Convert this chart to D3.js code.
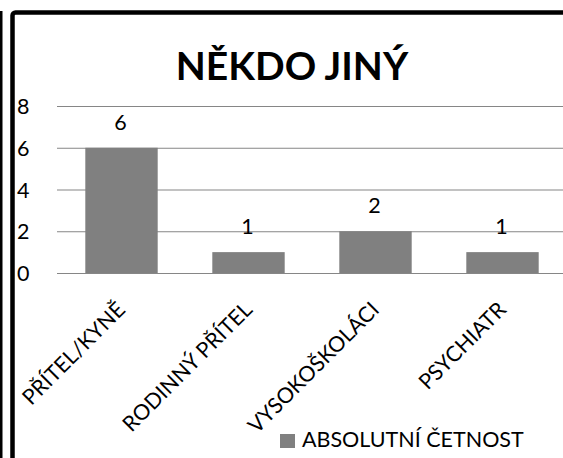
<!DOCTYPE html>
<html>
<head>
<meta charset="utf-8">
<script src="https://cdn.jsdelivr.net/npm/d3@7"></script>
<style>
  body { margin: 0; background: #fff; }
  text { font-family: Lato, "Open Sans", sans-serif; fill: #000; }
</style>
</head>
<body>
<script>
// chart data
var title = "NĚKDO JINÝ";
var seriesName = "ABSOLUTNÍ ČETNOST";
var categories = ["PŘÍTEL/KYNĚ", "RODINNÝ PŘÍTEL", "VYSOKOŠKOLÁCI", "PSYCHIATR"];
var values = [6, 1, 2, 1];
var yTicks = [0, 2, 4, 6, 8];

var width = 563, height = 458;
var fontSize = 21.5;

var svg = d3.select("body").append("svg")
    .attr("width", width)
    .attr("height", height);

// frame (left edge of neighbour + chart border)
svg.append("rect").attr("x", 0).attr("y", 11).attr("width", 2.5).attr("height", height)
    .attr("fill", "#000");
svg.append("rect").attr("x", 12.5).attr("y", 12.5).attr("width", 620).attr("height", 520)
    .attr("rx", 3).attr("fill", "none").attr("stroke", "#000").attr("stroke-width", 4.5);

var x = d3.scaleBand().domain(categories).range([58, 566])
    .paddingInner(0.43).paddingOuter(0.215);
var y = d3.scaleLinear().domain([0, 8]).range([273, 106]);

// gridlines
var grid = svg.append("g").attr("transform", "translate(57,0)")
    .call(d3.axisLeft(y).tickValues(yTicks).tickSize(-(width - 57)).tickFormat(""));
grid.select(".domain").remove();
grid.selectAll("line").attr("stroke", "#868686").attr("stroke-width", 1.2);

// y tick labels
var yLab = svg.append("g").attr("transform", "translate(17,0)")
    .call(d3.axisRight(y).tickValues(yTicks).tickSize(0).tickPadding(0));
yLab.select(".domain").remove();
yLab.selectAll("text").attr("font-size", fontSize).attr("font-family", null)
    .attr("dy", "0.35em");

// bars
var data = categories.map(function(c, i) { return { cat: c, val: values[i] }; });
svg.selectAll(".bar").data(data).enter().append("rect")
    .attr("class", "bar")
    .attr("x", function(d) { return x(d.cat); })
    .attr("y", function(d) { return y(d.val); })
    .attr("width", x.bandwidth())
    .attr("height", function(d) { return y(0) - y(d.val); })
    .attr("fill", "#808080");

// value labels
svg.selectAll(".val").data(data).enter().append("text")
    .attr("class", "val")
    .attr("x", function(d) { return x(d.cat) + x.bandwidth() / 2 - 1; })
    .attr("y", function(d) { return y(d.val) - 18; })
    .attr("text-anchor", "middle")
    .attr("font-size", fontSize)
    .text(function(d) { return d.val; });

// category labels, rotated
svg.selectAll(".cat").data(categories).enter().append("text")
    .attr("class", "cat")
    .attr("transform", function(d) {
        return "translate(" + (x(d) + x.bandwidth() / 2 + 5) + ",311) rotate(-45)";
    })
    .attr("text-anchor", "end")
    .attr("font-size", fontSize)
    .text(function(d) { return d; });

// title
svg.append("text")
    .attr("x", 292).attr("y", 80)
    .attr("text-anchor", "middle")
    .attr("font-size", 39)
    .attr("font-weight", "bold")
    .text(title);

// legend
svg.append("rect").attr("x", 280).attr("y", 434).attr("width", 15).attr("height", 14)
    .attr("fill", "#808080");
svg.append("text").attr("x", 302).attr("y", 447)
    .attr("font-size", fontSize)
    .text(seriesName);
</script>
</body>
</html>
